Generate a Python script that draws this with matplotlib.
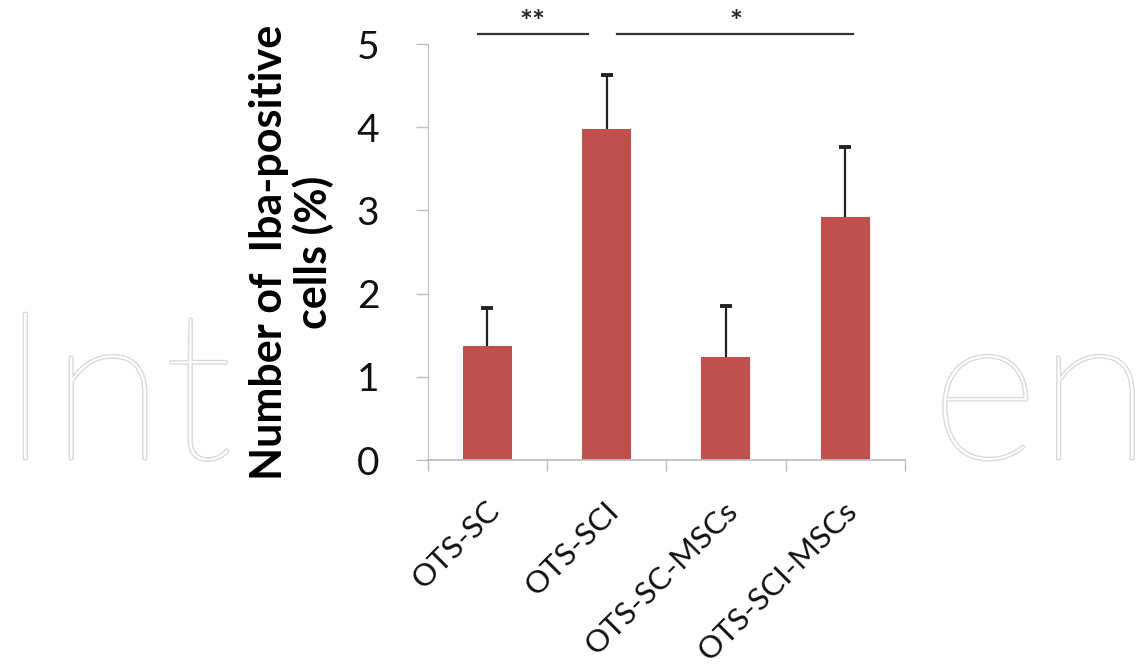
import numpy as np
import matplotlib
matplotlib.use("Agg")
import matplotlib.pyplot as plt
import matplotlib.patheffects as pe
import matplotlib.transforms as mtrans
from matplotlib.patches import Rectangle

# ------------------ DATOS ------------------

grupos = ["OTS-SC", "OTS-SCI", "OTS-SC-MSCs", "OTS-SCI-MSCs"]
medias = [1.37, 3.98, 1.24, 2.92]
error_sup = [0.46, 0.65, 0.61, 0.84]

# comparaciones: (x inicio, x fin, etiqueta)
sig_x0 = [-0.08, 1.09]
sig_x1 = [0.84, 3.07]
sig_txt = ["**", "*"]
sig_y = 5.12

plt.rcParams['font.family'] = ['Lato', 'DejaVu Sans']

fig = plt.figure(figsize=(11.38, 6.70), dpi=100)

# marca de agua de fondo
wm = fig.text(0.0, 0.315, "Int", fontsize=150, color="white", zorder=0,
              ha="left", va="baseline", fontweight="light")
wm.set_path_effects([pe.withStroke(linewidth=2, foreground="#d9d9d9")])
wm2 = fig.text(0.818, 0.315, "en", fontsize=150, color="white", zorder=0,
               ha="left", va="baseline", fontweight="light")
wm2.set_path_effects([pe.withStroke(linewidth=2, foreground="#d9d9d9")])
fig.patches.append(Rectangle((0.218, 0.0), 0.6, 1.0, transform=fig.transFigure,
                             facecolor="white", edgecolor="none", zorder=0.5))

ax = fig.add_axes([0.376, 0.3134, 0.419, 0.6209])
ax.set_zorder(2)

x = np.arange(len(grupos))
ax.bar(x, medias, width=0.41, color="#C0504D", zorder=2)
_, caps, _ = ax.errorbar(x, medias, yerr=[np.zeros(len(medias)), error_sup],
                         fmt="none", ecolor="#222222", elinewidth=1.6,
                         capsize=4.5, capthick=2.8, zorder=3)
caps[0].set_visible(False)

ax.set_xlim(-0.5, len(grupos) - 0.5)
ax.set_ylim(0, 5)
ax.set_yticks(range(0, 6))
ax.tick_params(axis="y", labelsize=28, length=9, width=1, color="#bfbfbf",
               pad=26, labelcolor="#111111")

# ticks del eje x en los limites de categoria
ax.set_xticks(np.arange(-0.5, len(grupos), 1.0))
ax.set_xticklabels([])
ax.tick_params(axis="x", length=8, width=1, color="#bfbfbf", direction="out")
ax.set_xticks(x, minor=True)
ax.set_xticklabels(grupos, minor=True, rotation=45, ha="right",
                   rotation_mode="anchor", fontsize=22.5, color="#111111")
ax.tick_params(axis="x", which="minor", length=0, pad=26)
desplaz = mtrans.ScaledTranslation(-2 / 100, 0, fig.dpi_scale_trans)
for lab in ax.get_xticklabels(minor=True):
    lab.set_transform(lab.get_transform() + desplaz)

for lado in ["top", "right"]:
    ax.spines[lado].set_visible(False)
ax.spines["left"].set_color("#bfbfbf")
ax.spines["bottom"].set_color("#bfbfbf")
ax.spines["bottom"].set_linewidth(1.3)

ax.set_ylabel("Number of  Iba-positive\ncells (%)", fontsize=31,
              fontweight="bold", labelpad=16, linespacing=1.1)

for x0, x1, t in zip(sig_x0, sig_x1, sig_txt):
    ax.plot([x0, x1], [sig_y, sig_y], color="#333333", lw=1.6, clip_on=False)
    ax.text((x0 + x1) / 2, sig_y - 0.04, t, ha="center", va="bottom",
            fontsize=22, fontweight="bold", color="#222222")

fig.savefig("out.png", dpi=100)
